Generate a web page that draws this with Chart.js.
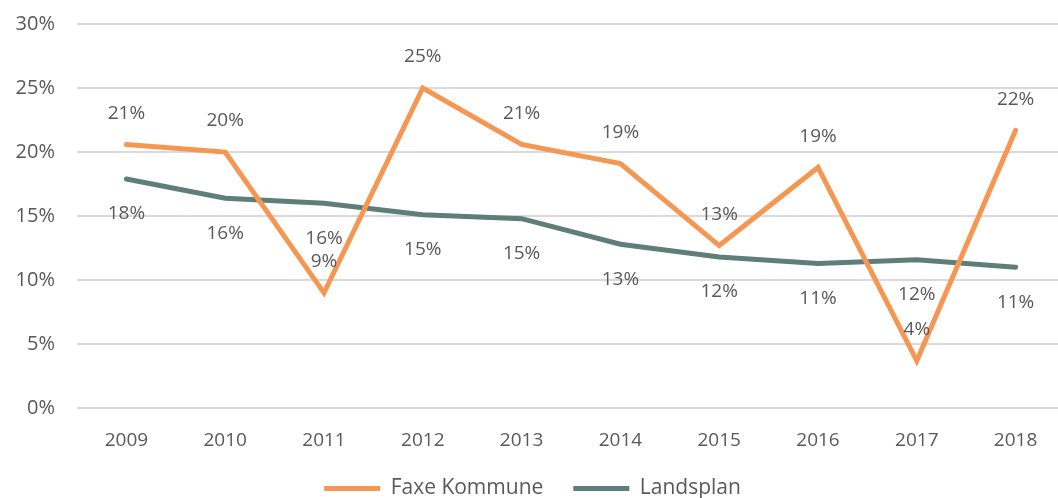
<!DOCTYPE html>
<html>
<head>
<meta charset="utf-8">
<script src="https://cdn.jsdelivr.net/npm/chart.js@4.4.0/dist/chart.umd.min.js"></script>
<style>
  html, body { margin: 0; padding: 0; background: #fff; overflow: hidden; }
  #wrap { width: 1058px; height: 498px; overflow: hidden; }
</style>
</head>
<body>
<div id="wrap"><canvas id="myChart" width="1065" height="498"></canvas></div>
<script>
const years = ['2009', '2010', '2011', '2012', '2013', '2014', '2015', '2016', '2017', '2018'];
const faxe = [20.6, 20.0, 9.0, 25.0, 20.6, 19.1, 12.7, 18.8, 3.7, 21.7];
const landsplan = [17.9, 16.4, 16.0, 15.1, 14.8, 12.8, 11.8, 11.3, 11.6, 11.0];
const yTicks = [0, 5, 10, 15, 20, 25, 30];

const textColor = '#595959';
const fontFamily = "'Open Sans', 'Noto Sans', sans-serif";

// labels over / under each point
const pointLabels = {
    id: 'pointLabels',
    afterDatasetsDraw(chart) {
        const ctx = chart.ctx;
        ctx.save();
        ctx.font = '19px ' + fontFamily;
        ctx.fillStyle = textColor;
        ctx.textAlign = 'center';
        ctx.textBaseline = 'middle';
        chart.data.datasets.forEach((ds, i) => {
            const meta = chart.getDatasetMeta(i);
            meta.data.forEach((pt, j) => {
                const off = i == 0 ? -31 : 35;
                ctx.fillText(Math.round(ds.data[j]) + '%', pt.x, pt.y + off);
            });
        });
        ctx.restore();
    }
};

// legend padding is big for the gap between items, so lift it back up
const liftLegend = {
    id: 'liftLegend',
    afterLayout(chart) {
        chart.legend.top -= 17;
        chart.legend.bottom -= 17;
    }
};

let chart = document.getElementById('myChart').getContext('2d');

let myChart = new Chart(chart, {
    type: 'line',
    data: {
        labels: years,
        datasets: [
            {
                label: 'Faxe Kommune',
                data: faxe,
                borderColor: 'rgb(245, 151, 82)',
                backgroundColor: 'rgb(245, 151, 82)',
                borderWidth: 5,
                borderCapStyle: 'round',
                pointRadius: 0,
                tension: 0
            },
            {
                label: 'Landsplan',
                data: landsplan,
                borderColor: 'rgb(96, 126, 121)',
                backgroundColor: 'rgb(96, 126, 121)',
                borderWidth: 5,
                borderCapStyle: 'round',
                pointRadius: 0,
                tension: 0
            }
        ]
    },
    options: {
        responsive: false,
        animation: false,
        layout: { padding: { top: 24, right: 0, left: 0, bottom: -28 } },
        scales: {
            x: {
                offset: true,
                afterFit: axis => { axis.paddingLeft = 0; axis.paddingRight = 0; },
                grid: { display: false },
                border: { display: false },
                ticks: { color: textColor, font: { family: fontFamily, size: 19 }, padding: 13 }
            },
            y: {
                min: 0,
                max: 30,
                afterBuildTicks: axis => { axis.ticks = yTicks.map(v => ({ value: v })); },
                afterFit: axis => { axis.width = 77; axis.paddingTop = 0; axis.paddingBottom = 0; },
                grid: { color: '#d9d9d9', lineWidth: 2, drawTicks: false },
                border: { display: false },
                ticks: {
                    color: textColor,
                    font: { family: fontFamily, size: 20 },
                    padding: 22,
                    callback: v => v + '%'
                }
            }
        },
        plugins: {
            legend: {
                position: 'bottom',
                labels: {
                    color: textColor,
                    font: { family: fontFamily, size: 21 },
                    usePointStyle: true,
                    pointStyle: 'line',
                    pointStyleWidth: 56,
                    padding: 30
                }
            },
            tooltip: { enabled: false }
        }
    },
    plugins: [pointLabels, liftLegend]
});
</script>
</body>
</html>
